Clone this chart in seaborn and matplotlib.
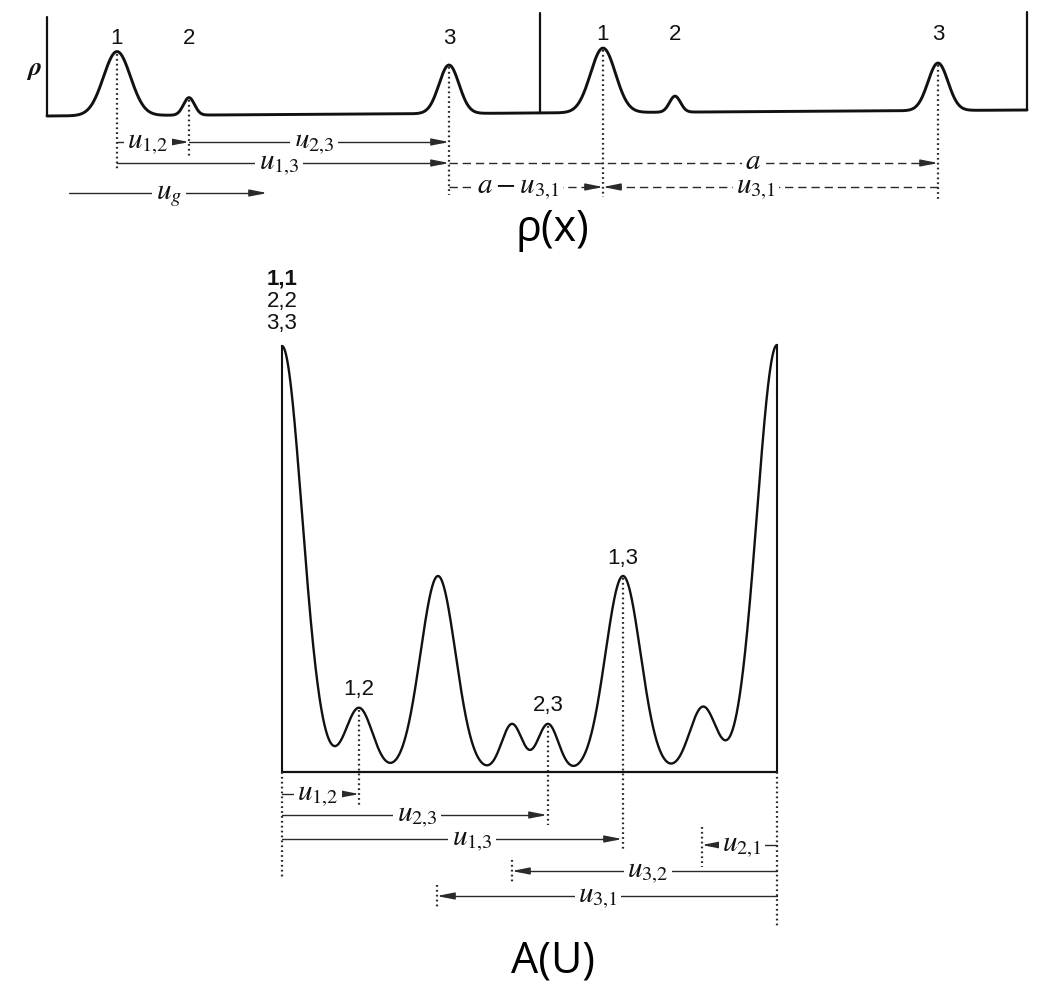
import numpy as np
import matplotlib
matplotlib.use('Agg')
import matplotlib.pyplot as plt
import seaborn as sns

# ---- top panel: density rho(x) over two cells (peak centre, height, width, px)
rho_peak_x = [117, 189, 449, 603, 675, 938]
rho_peak_h = [64, 17.5, 48.5, 64.5, 16, 47.5]
rho_peak_w = [13.5, 5.5, 10, 12.5, 5.5, 10]
rho_labels = ['1', '2', '3', '1', '2', '3']

# ---- bottom panel: Patterson A(U)
pat_peak_x = [282, 359, 438, 512, 548, 623, 703, 777]
pat_peak_h = [426, 64, 196, 48, 48, 196, 65, 427]
pat_peak_w = [20, 13.5, 17.5, 10.5, 10.5, 17.5, 13.5, 20]
pat_label_x = [359, 548, 623]
pat_labels = ['1,2', '2,3', '1,3']
origin_labels = ['1,1', '2,2', '3,3']

# interatomic vectors: (start, end, label, label x, row y, dashed)
top_vectors = [
    (117, 189, r'$u_{1{,}2}$', 148, 142, False),
    (189, 449, r'$u_{2{,}3}$', 314, 142, False),
    (117, 449, r'$u_{1{,}3}$', 279, 163, False),
    (449, 938, r'$a$', 753, 163, True),
    (449, 603, r'$a - u_{3{,}1}$', 518, 187, True),
    (938, 603, r'$u_{3{,}1}$', 756, 187, True),
    (69, 267, r'$u_g$', 169, 193, False),
]
bottom_vectors = [
    (282, 359, r'$u_{1{,}2}$', 318, 794),
    (282, 547, r'$u_{2{,}3}$', 417, 815),
    (282, 622, r'$u_{1{,}3}$', 472, 839),
    (777, 702, r'$u_{2{,}1}$', 742, 845),
    (777, 512, r'$u_{3{,}2}$', 648, 871),
    (777, 437, r'$u_{3{,}1}$', 598, 896),
]

sns.set_style('white')
plt.rcParams['mathtext.fontset'] = 'stix'
ink = '#111111'
thin = '#2a2a2a'


def bumps(x, cx, h, w):
    y = np.zeros_like(x)
    for c, hh, ww in zip(cx, h, w):
        y += hh * np.exp(-(x - c) ** 2 / (2 * ww ** 2))
    return y


def vector(ax, x0, x1, y, label, lx, dashed=False):
    ls = (0, (6, 3.5)) if dashed else '-'
    d = np.sign(x1 - x0)
    ax.plot([x0, x1 - d * 6], [y, y], color=thin, lw=1.0, ls=ls, zorder=2)
    ax.annotate('', xy=(x1, y), xytext=(x1 - d * 14, y),
                arrowprops=dict(arrowstyle='-|>,head_length=0.75,head_width=0.15',
                                color=thin, lw=1.0, shrinkA=0, shrinkB=0,
                                mutation_scale=14), zorder=3)
    ax.text(lx, y + 6, label, ha='center', va='baseline', fontsize=21, color=ink,
            bbox=dict(fc='white', ec='none', pad=2.5), zorder=4)


fig = plt.figure(figsize=(10.49, 9.86), dpi=100)
ax = fig.add_axes([0, 0, 1, 1])
ax.set_xlim(0, 1049)
ax.set_ylim(986, 0)
ax.axis('off')

# top curve on a slightly tilted baseline
xt = np.linspace(47, 1027, 2000)
base_t = 116 + (110 - 116) * (xt - 47) / (1027 - 47)
yt = base_t - bumps(xt, rho_peak_x, rho_peak_h, rho_peak_w)
sns.lineplot(x=xt, y=yt, ax=ax, color=ink, lw=2.1, sort=False, estimator=None)
ax.plot([47, 47], [17, 116], color=ink, lw=1.6)
ax.plot([539.6, 539.6], [13, 113], color=ink, lw=1.6)
ax.plot([1027, 1027], [12, 110], color=ink, lw=1.6)
ax.text(34, 69, r'$\boldsymbol{\rho}$', fontsize=19, ha='center', va='center', color=ink)

tops_t = np.interp(rho_peak_x, xt, yt)
for px, lab in zip(rho_peak_x, rho_labels):
    ly = 38 if px < 539 else 34
    ax.text(px, ly, lab, fontsize=16, ha='center', va='center', family='Liberation Sans', color=ink)

# dotted drop lines from the peaks
dot = dict(color=thin, lw=1.6, ls=(0, (0.8, 1.4)))
drops_t = {0: 170, 1: 157, 2: 195, 3: 197, 5: 200}
for i, bottom in drops_t.items():
    ax.plot([rho_peak_x[i]] * 2, [tops_t[i] + 2, bottom], **dot)

for x0, x1, lab, lx, y, dashed in top_vectors:
    vector(ax, x0, x1, y, lab, lx, dashed)

ax.text(552, 230, 'ρ(x)', fontsize=31, ha='center', va='center', family=['Open Sans', 'DejaVu Sans'], color='black')

# bottom Patterson curve
xb = np.linspace(282, 777, 2000)
yb = 772 - bumps(xb, pat_peak_x, pat_peak_h, pat_peak_w)
sns.lineplot(x=xb, y=yb, ax=ax, color=ink, lw=1.7, sort=False, estimator=None)
ax.plot([282, 282], [yb[0], 772], color=ink, lw=1.5)
ax.plot([777, 777], [yb[-1], 772], color=ink, lw=1.5)
ax.plot([282, 777], [772, 772], color=ink, lw=1.6)

for i, lab in enumerate(origin_labels):
    ax.text(282, 279 + 22.5 * i, lab, fontsize=16, ha='center', va='center',
            family='Liberation Sans', weight='bold' if i == 0 else 'normal', color=ink)

tops_b = np.interp(pat_label_x, xb, yb)
for px, ty, lab in zip(pat_label_x, tops_b, pat_labels):
    ax.text(px, ty - 18, lab, fontsize=16, ha='center', va='center', family='Liberation Sans', color=ink)

for px, ty, bottom in zip(pat_label_x, tops_b, [805, 825, 851]):
    ax.plot([px, px], [ty + 2, bottom], **dot)
ax.plot([282, 282], [772, 877], **dot)
ax.plot([777, 777], [772, 928], **dot)
ax.plot([702, 702], [827, 867], **dot)
ax.plot([512, 512], [860, 883], **dot)
ax.plot([437, 437], [885, 909], **dot)

for x0, x1, lab, lx, y in bottom_vectors:
    vector(ax, x0, x1, y, lab, lx)

ax.text(553, 961, 'A(U)', fontsize=31, ha='center', va='center', family=['Open Sans', 'DejaVu Sans'], color='black')

fig.savefig('out.png', dpi=100, facecolor='white')
